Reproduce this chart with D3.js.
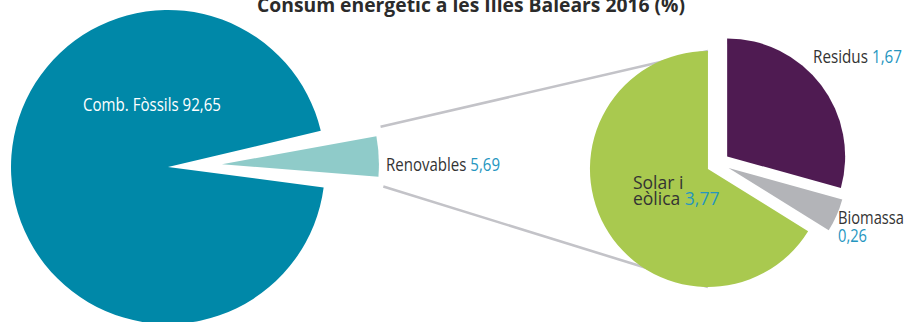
<!DOCTYPE html>
<html>
<head>
<meta charset="utf-8">
<script src="https://cdn.jsdelivr.net/npm/d3@7"></script>
<style>
  html, body { margin: 0; padding: 0; background: #fff; }
  svg { display: block; font-family: "Open Sans", sans-serif; }
</style>
</head>
<body>
<svg id="chart" width="906" height="322"></svg>
<script>
const title = 'Consum energ\u00e8tic a les Illes Balears 2016 (%)';

// main pie: fossil fuels vs renewables
const mainLabels = ['Comb. F\u00f2ssils', 'Renovables'];
const mainValues = [92.65, 5.69];
const mainColors = ['#0088a8', '#8fcbc9'];

// breakdown of renewables
const renewLabels = ['Residus', 'Biomassa', 'Solar i e\u00f2lica'];
const renewValues = [1.67, 0.26, 3.77];
const renewColors = ['#4f1b52', '#b3b4b8', '#a9c94f'];

const valueFmt = v => d3.format('.2f')(v).replace('.', ',');

const svg = d3.select('#chart');
const rad = deg => deg * Math.PI / 180;
const dir = a => [Math.sin(a), -Math.cos(a)];

// ---- layout
const c1 = [168, 167], r1 = 157;   // big pie
const c2 = [718, 163.4], r2 = 118; // small pie
const renewMid = rad(87.1);        // where the renewables slice points
const renewExplode = 54;
const renewInset = rad(3);
const smallExplode = 11.5;

// big pie angles: renewables slice centred on renewMid
const total = d3.sum(mainValues);
const fRenew = mainValues[1] / total;
const start1 = renewMid - 2 * Math.PI + Math.PI * fRenew;
const pie1 = d3.pie().sort(null).startAngle(start1).endAngle(start1 + 2 * Math.PI);
const arcs1 = pie1(mainValues);

const pie2 = d3.pie().sort(null);
const arcs2 = pie2(renewValues);

const arc1 = d3.arc().innerRadius(0).outerRadius(r1);
const arc2 = d3.arc().innerRadius(0).outerRadius(r2);

const renewArc = arcs1[1];
const renewOff = dir(renewMid).map(v => v * renewExplode);
const renewApex = [c1[0] + renewOff[0], c1[1] + renewOff[1]];

const greenArc = arcs2[2];
const greenMid = (greenArc.startAngle + greenArc.endAngle) / 2;
const greenApex = [c2[0] + dir(greenMid)[0] * smallExplode, c2[1] + dir(greenMid)[1] * smallExplode];

// ---- connector lines (drawn first so the pies cover their ends)
const connectors = [
  {a: renewArc.startAngle, to: [greenApex[0], greenApex[1] - r2]},
  {a: renewArc.endAngle, to: [greenApex[0], greenApex[1] + r2]}
];
connectors.forEach(c => {
  const d = dir(c.a);
  const corner = [renewApex[0] + d[0] * r1, renewApex[1] + d[1] * r1];
  const dx = c.to[0] - corner[0], dy = c.to[1] - corner[1];
  const len = Math.hypot(dx, dy);
  const gap = 6;
  svg.append('line')
    .attr('x1', corner[0] + dx / len * gap)
    .attr('y1', corner[1] + dy / len * gap)
    .attr('x2', c.to[0])
    .attr('y2', c.to[1])
    .attr('stroke', '#c3c3c8')
    .attr('stroke-width', 2.6);
});

// ---- big pie
const g1 = svg.append('g').attr('transform', `translate(${c1})`);
g1.append('path')
  .attr('d', arc1(arcs1[0]))
  .attr('fill', mainColors[0]);
g1.append('path')
  .attr('transform', `translate(${renewOff})`)
  .attr('d', arc1({startAngle: renewArc.startAngle + renewInset, endAngle: renewArc.endAngle - renewInset}))
  .attr('fill', mainColors[1]);

// ---- small pie, every slice pulled out a little
const g2 = svg.append('g').attr('transform', `translate(${c2})`);
g2.selectAll('path')
  .data(arcs2)
  .join('path')
  .attr('transform', d => {
    const m = (d.startAngle + d.endAngle) / 2;
    return `translate(${dir(m).map(v => v * smallExplode)})`;
  })
  .attr('d', arc2)
  .attr('fill', (d, i) => renewColors[i]);

// ---- labels
const dark = '#333333', teal = '#2696bf';
function label(x, y, parts, width, fill) {
  const t = svg.append('text')
    .attr('x', x)
    .attr('y', y)
    .attr('font-size', 17.5)
    .attr('fill', fill || dark);
  parts.forEach(p => {
    const ts = t.append('tspan').text(p.text);
    if (p.fill) ts.attr('fill', p.fill);
  });
  // only squeeze, the original face is condensed
  if (width && t.node().getComputedTextLength() > width) {
    t.attr('textLength', width).attr('lengthAdjust', 'spacingAndGlyphs');
  }
  return t;
}

// title
svg.append('text')
  .attr('x', 471)
  .attr('y', 11.5)
  .attr('text-anchor', 'middle')
  .attr('font-size', 19)
  .attr('font-weight', 700)
  .attr('fill', '#2b2b2b')
  .attr('textLength', 428)
  .attr('lengthAdjust', 'spacingAndGlyphs')
  .text(title);

label(83, 110.7, [{text: `${mainLabels[0]} ${valueFmt(mainValues[0])}`}], 138, '#ffffff');
label(386, 170.7, [{text: mainLabels[1] + ' '}, {text: valueFmt(mainValues[1]), fill: teal}], 114);
label(813, 63, [{text: renewLabels[0] + ' '}, {text: valueFmt(renewValues[0]), fill: teal}], 89);

// two-line labels, one text per line
const solarWords = renewLabels[2].split(' ');
label(838, 224, [{text: renewLabels[1]}], 66);
label(838, 241.5, [{text: valueFmt(renewValues[1]), fill: teal}], 29);
label(633, 189, [{text: solarWords.slice(0, 2).join(' ')}], null);
label(633, 204.5, [{text: solarWords[2] + ' '}, {text: valueFmt(renewValues[2]), fill: teal}], 89);
</script>
</body>
</html>
